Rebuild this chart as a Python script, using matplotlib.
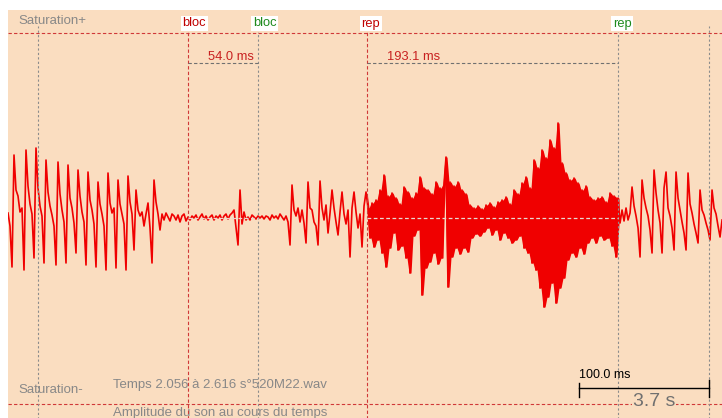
import numpy as np
import matplotlib
matplotlib.use('Agg')
import matplotlib.pyplot as plt

plt.rcParams['font.family'] = ['Liberation Sans', 'DejaVu Sans']

# Enveloppe du son, décimée à 650 Hz (une valeur toutes les 1.54 ms)
# amplitude en unités d'affichage, saturation à +/- 185.5
pas_ms = 1000 / 650
saturation = 185.5

# attaque périodique avant le bloc
signal_a = [5, -8, -49, 63, 28, 22, 6, 10, -52, 68,
            32, 14, 4, -40, 70, 30, 12, 2, -45, 58,
            26, 12, 3, -8, -47, 56, 24, 8, -4, -45,
            53, 20, 10, -5, -35, 48, 22, 6, -4, -47,
            46, 18, 8, -6, -49, 36, 14, 4, -8, -52,
            45, 15, 5, 10, -50, 38, 14, 4, -6, -52,
            42, 16, 4, -32, 28, 8, 2, 6, -8, 4,
            15, -10, -45, 38, 16, 4, -12]
# silence du bloc
signal_b = [4, -2, 5, 1, -3, 4, 2, -2, 3, -4,
            2, 4, -3, 1, -2, 2, 0, 3, -2, 1,
            4, -1, 2, -2, 1, 3, -2, 2, 0, 3,
            -2, 2, 4, -1, 3, 5, 8, -10, -27, 28,
            -6, 6, -2, 1, -2, 3, 1, -1, 2, 0,
            2, -1, 2, 1, -2, 3, 0, 2, -1, 4,
            1, -2, 2, -4]
# reprise du voisement
signal_c = [-27, 33, 8, 2, 10, -4, 8, -5, -25, 36,
            10, 8, -4, -8, -27, 37, 10, -2, 13, -15,
            5, 28, 10, -4, -17, 6, 26, 4, -6, 8,
            -39, 10, 26, 6, -10, 4, -29, 12, 26]
# zone de répétition (bruit dense)
signal_d = [10, -20, 15, -29, 18, -22, 28, -35, 43, -49,
            22, -30, 25, -15, 20, -32, 14, -28, 31, -40,
            26, -55, 20, -18, 25, -12, 41, -77, 30, -50,
            28, -44, 24, -35, 36, -46, 30, -40, 34, 61,
            -69, 36, -39, 32, -30, 36, -36, 28, -30, 24,
            -34, 13, -20, 10, -16, 12, -18, 9, -14, 13,
            -10, 15, -17, 11, -12, 16, -22, 18, -15, 21,
            -20, 14, -25, 28, -22, 24, -18, 35, -30, 41,
            -35, 30, -45, 58, -52, 50, -70, 68, -89, 60,
            -79, 78, -65, 70, -85, 95, -70, 55, -60, 45,
            -42, 38, -35, 40, -39, 35, -30, 28, -36, 32,
            -25, 21, -20, 18, -25, 20, -18, 21, -22, 16,
            -20, 25, -28, 22, -39, 20]
# fin de la fenêtre
signal_e = [-5, 8, -3, 10, -2, 5, 31, 12, 2, -10,
            -39, 38, 20, 10, 2, -12, -35, 48, 25, 8,
            -5, -35, 30, 46, 10, 2, -10, -32, 46, 20,
            8, -4, -15, -32, 45, 14, 5, -6, -15, -25,
            28, 8, 3, -5, -12, -22, 28, 10, 4, -8,
            -19, -2]

# repères (ms depuis le début de la fenêtre)
duree_fenetre = 549.2
bloc_debut, bloc_duree = 138.5, 54.0
rep_debut, rep_duree = 276.2, 193.1
reperes_gris = [23.1, 539.5]
echelle_fin, echelle_ms = 539.5, 100.0

amplitude = np.array(signal_a + signal_b + signal_c + signal_d + signal_e)
temps = np.arange(len(amplitude)) * pas_ms

fond = '#FADDC0'
rouge_son = '#F00000'
rouge_trait = '#D03838'
gris = '#8C8C8C'

fig = plt.figure(figsize=(7.22, 4.18), dpi=100)
ax = fig.add_axes([8 / 722, 0, 714 / 722, 408 / 418])
ax.set_facecolor(fond)
ax.set_xlim(0, duree_fenetre)
ax.set_ylim(-200, 208)
ax.set_xticks([])
ax.set_yticks([])
for s in ax.spines.values():
    s.set_visible(False)

# niveaux de saturation
for niveau in (saturation, -saturation):
    ax.axhline(niveau, color=rouge_trait, lw=0.8, ls=(0, (3, 2)), zorder=1)

# le son
ax.plot(temps, amplitude, color=rouge_son, lw=1.2, zorder=2)

# partie dense : on remplit entre min et max des échantillons voisins
i0 = len(signal_a) + len(signal_b) + len(signal_c)
i1 = i0 + len(signal_d)
dense = amplitude[i0 - 1:i1 + 1]
haut = np.maximum(dense[:-1], dense[1:])
bas = np.minimum(dense[:-1], dense[1:])
t_dense = temps[i0 - 1:i1] + pas_ms / 2
ax.fill_between(t_dense, bas, haut, color=rouge_son, lw=0, zorder=2)

# traits verticaux gris
for t in reperes_gris:
    ax.plot([t, t], [-210, 192], color=gris, lw=0.8, ls=(0, (2, 2)), zorder=3)

# intervalles bloc / rep
for nom, debut, duree in (('bloc', bloc_debut, bloc_duree), ('rep', rep_debut, rep_duree)):
    fin = debut + duree
    ax.plot([debut, debut], [-210, 186], color=rouge_trait, lw=0.8, ls=(0, (3, 2)), zorder=3)
    ax.plot([fin, fin], [-210, 186], color=gris, lw=0.8, ls=(0, (2, 2)), zorder=3)
    # ligne zéro dans l'intervalle
    ax.plot([debut, fin], [0, 0], color='#E8D8D0', lw=0.9, ls=(0, (3, 2)), zorder=3)
    ax.plot([debut, fin], [155, 155], color='#707070', lw=0.8, ls=(0, (3, 2)), zorder=3)
    ax.text(debut + 15.4, 161, f'{duree:.1f} ms', color='#C82020', fontsize=9.3,
            ha='left', va='center', zorder=4)
    for t, c in ((debut, '#C00000'), (fin, '#1E8A1E')):
        ax.text(t - 4.2, 194.5, nom, color=c, fontsize=9.3, ha='left', va='center',
                bbox=dict(boxstyle='square,pad=0.15', fc='white', ec='none'), zorder=5)

# textes
ax.text(7.7, 197, 'Saturation+', color='#888888', fontsize=9.5, ha='left', va='center')
ax.text(7.7, -172, 'Saturation-', color='#888888', fontsize=9.5, ha='left', va='center')
ax.text(80.8, -167, 'Temps 2.056 à 2.616 s°520M22.wav', color='#888888', fontsize=9.5,
        ha='left', va='center', zorder=1)
ax.text(80.8, -195, 'Amplitude du son au cours du temps', color='#888888', fontsize=9.5,
        ha='left', va='center', zorder=1)

# barre d'échelle
echelle_debut = echelle_fin - echelle_ms
ax.plot([echelle_debut, echelle_fin], [-170, -170], color='black', lw=1.0, zorder=4)
ax.plot([echelle_debut, echelle_debut], [-165, -179], color='black', lw=1.0, zorder=4)
ax.plot([echelle_fin, echelle_fin], [-162, -179], color='black', lw=1.0, zorder=4)
ax.text(echelle_debut, -157, f'{echelle_ms:.1f} ms', color='black', fontsize=9,
        ha='left', va='center', zorder=5)
ax.text(echelle_debut + 57.5, -184, '3.7 s', color='#707070', fontsize=14,
        ha='center', va='center', zorder=5,
        bbox=dict(boxstyle='square,pad=0.05', fc=fond, ec='none'))

fig.savefig('out.png', dpi=100, facecolor='white')
